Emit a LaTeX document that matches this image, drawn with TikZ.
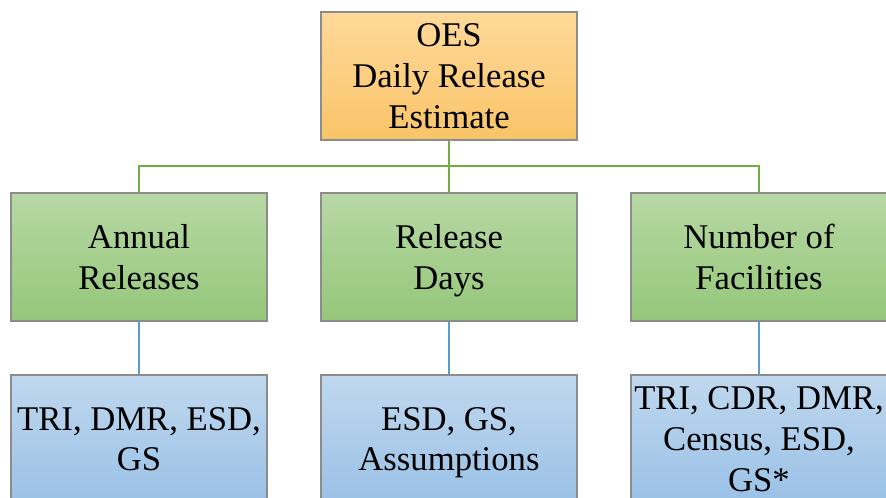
\documentclass[tikz,border=0pt]{standalone}
\usepackage{fontspec}
\setmainfont{Liberation Serif}
\usepackage{tikz}
\usetikzlibrary{positioning}
\definecolor{oesorange}{RGB}{255,217,153}
\definecolor{oesorange2}{RGB}{249,196,104}
\definecolor{oesgreen}{RGB}{184,216,164}
\definecolor{oesgreen2}{RGB}{148,199,122}
\definecolor{oesblue}{RGB}{192,216,239}
\definecolor{oesblue2}{RGB}{153,193,230}
\definecolor{linegreen}{RGB}{112,173,71}
\definecolor{lineblue}{RGB}{91,155,213}
\definecolor{boxgray}{RGB}{140,140,140}
\tikzstyle{basebox} = [rectangle, minimum width=192pt, minimum height=96pt, align=center, draw=boxgray, line width=0.8pt, font=\fontsize{26}{30.5}\selectfont, inner sep=0pt, text depth=-3pt]
\tikzstyle{topbox} = [basebox, top color=oesorange, bottom color=oesorange2]
\tikzstyle{midbox} = [basebox, top color=oesgreen, bottom color=oesgreen2]
\tikzstyle{srcbox} = [basebox, top color=oesblue, bottom color=oesblue2]
\tikzstyle{greenline} = [draw=linegreen, line width=2pt]
\tikzstyle{blueline} = [draw=lineblue, line width=2pt]

\begin{document}
\begin{tikzpicture}[x=0.75pt, y=-0.75pt]
\useasboundingbox (0,0) rectangle (886,498);

% Estimate
\node[topbox] (oes) at (449,76) {OES\\Daily Release\\Estimate};

% Factors
\node[midbox] (annual) at (139,257) {Annual\\Releases};
\node[midbox] (days) at (449,257) {Release\\Days};
\node[midbox] (facil) at (759,257) {Number of\\Facilities};

% Sources
\node[srcbox] (srcannual) at (139,439) {TRI, DMR, ESD,\\GS};
\node[srcbox] (srcdays) at (449,439) {ESD, GS,\\Assumptions};
\node[srcbox] (srcfacil) at (759,439) {TRI, CDR, DMR,\\Census, ESD,\\GS*};

% Connectors
\coordinate (bus) at (449,166);
\draw[greenline] (oes.south) -- (bus);
\draw[greenline] (annual.north) |- (bus) -| (facil.north);
\draw[greenline] (bus) -- (days.north);
\draw[blueline] (annual) -- (srcannual);
\draw[blueline] (days) -- (srcdays);
\draw[blueline] (facil) -- (srcfacil);
\end{tikzpicture}
\end{document}
